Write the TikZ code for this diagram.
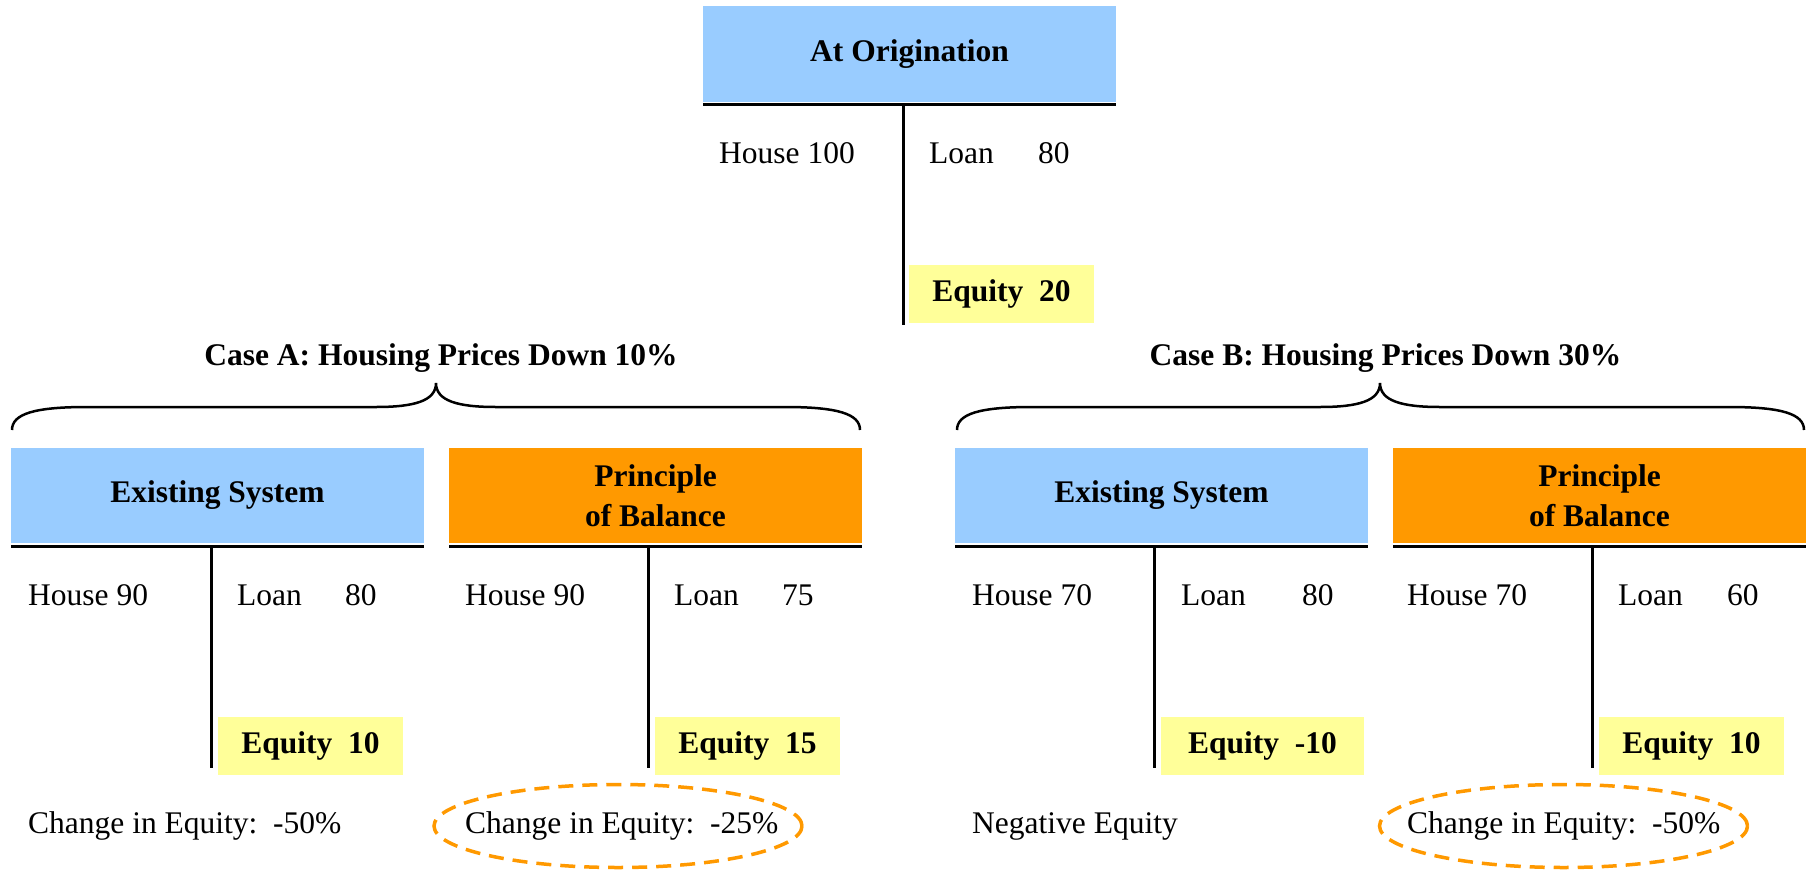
\documentclass[tikz,border=0pt]{standalone}
\usepackage{fontspec}
\setmainfont{Liberation Serif}
\usetikzlibrary{shapes.geometric}
\definecolor{hblue}{HTML}{99CCFF}
\definecolor{horange}{HTML}{FF9900}
\definecolor{hyellow}{HTML}{FFFF99}
\newcommand\mybrace[3]{%
  \draw[bracestyle] (#1,430) .. controls (#1,414) and (#1+22,407) .. (#1+75,407)
    -- (#2-60,407) .. controls (#2-22,407) and (#2,401) .. (#2,383)
    .. controls (#2,401) and (#2+22,407) .. (#2+60,407)
    -- (#3-75,407) .. controls (#3-22,407) and (#3,414) .. (#3,430);}
\begin{document}
\begin{tikzpicture}[x=1pt,y=-1pt,
  font=\fontsize{31.5}{40}\selectfont,
  hdr/.style={rectangle, inner sep=0pt, minimum width=413pt, minimum height=95pt,
    align=center, font=\fontsize{31.5}{40}\selectfont\bfseries},
  hdrblue/.style={hdr, fill=hblue},
  hdrorange/.style={hdr, fill=horange},
  eqbox/.style={rectangle, fill=hyellow, inner sep=0pt, minimum width=185pt,
    minimum height=58pt, font=\fontsize{31.5}{40}\selectfont\bfseries},
  txt/.style={anchor=base west, inner sep=0pt},
  ttl/.style={anchor=base, inner sep=0pt, font=\fontsize{31.5}{40}\selectfont\bfseries},
  tline/.style={line width=3pt},
  bracestyle/.style={line width=2.5pt},
  ellip/.style={ellipse, draw=horange, line width=3.5pt, dash pattern=on 15pt off 9pt,
    minimum width=368pt, minimum height=83pt, inner sep=0pt}]
\useasboundingbox (0,0) rectangle (1810,870);

% ---------- top: At Origination ----------
\node[hdrblue, minimum height=96pt] (top) at (909.5,54) {At Origination};
\coordinate (topL) at (703,104.5);
\coordinate (topR) at (1116,104.5);
\draw[tline] (topL) -- (topR);
\coordinate (topVa) at (903,104);
\coordinate (topVb) at (903,325);
\draw[tline] (topVa) -- (topVb);
\node[txt] (topHouse) at (719,163) {House 100};
\node[txt] (topLoan) at (929,163) {Loan};
\node[txt] (topLoanV) at (1038,163) {80};
\node[eqbox] (topEq) at (1001.5,294) {Equity\ \ 20};

% ---------- titles and braces ----------
\node[ttl] (ttlA) at (441,365) {Case A: Housing Prices Down 10\%};
\node[ttl] (ttlB) at (1385.5,365) {Case B: Housing Prices Down 30\%};
\mybrace{12}{436}{860}
\mybrace{957}{1380}{1804}

% ---------- Case A, Existing System ----------
\node[hdrblue] (a1) at (217.5,495.5) {Existing System};
\coordinate (a1L) at (11,546);
\coordinate (a1R) at (424,546);
\draw[tline] (a1L) -- (a1R);
\coordinate (a1Va) at (211,546);
\coordinate (a1Vb) at (211,768);
\draw[tline] (a1Va) -- (a1Vb);
\node[txt] (a1House) at (28,605) {House 90};
\node[txt] (a1Loan) at (237,605) {Loan};
\node[txt] (a1LoanV) at (345,605) {80};
\node[eqbox] (a1Eq) at (310.5,746) {Equity\ \ 10};
\node[txt] (a1Chg) at (28,833) {Change in Equity:\ \ -50\%};

% ---------- Case A, Principle of Balance ----------
\node[hdrorange] (a2) at (655.5,495.5) {Principle\\of Balance};
\coordinate (a2L) at (449,546);
\coordinate (a2R) at (862,546);
\draw[tline] (a2L) -- (a2R);
\coordinate (a2Va) at (648,546);
\coordinate (a2Vb) at (648,768);
\draw[tline] (a2Va) -- (a2Vb);
\node[txt] (a2House) at (465,605) {House 90};
\node[txt] (a2Loan) at (674,605) {Loan};
\node[txt] (a2LoanV) at (782,605) {75};
\node[eqbox] (a2Eq) at (747.5,746) {Equity\ \ 15};
\node[ellip] (a2Ell) at (618,826) {};
\node[txt] (a2Chg) at (465,833) {Change in Equity:\ \ -25\%};

% ---------- Case B, Existing System ----------
\node[hdrblue] (b1) at (1161.5,495.5) {Existing System};
\coordinate (b1L) at (955,546);
\coordinate (b1R) at (1368,546);
\draw[tline] (b1L) -- (b1R);
\coordinate (b1Va) at (1154,546);
\coordinate (b1Vb) at (1154,768);
\draw[tline] (b1Va) -- (b1Vb);
\node[txt] (b1House) at (972,605) {House 70};
\node[txt] (b1Loan) at (1181,605) {Loan};
\node[txt] (b1LoanV) at (1302,605) {80};
\node[eqbox, minimum width=203pt] (b1Eq) at (1262.5,746) {Equity\ \ -10};
\node[txt] (b1Neg) at (972,833) {Negative Equity};

% ---------- Case B, Principle of Balance ----------
\node[hdrorange] (b2) at (1599.5,495.5) {Principle\\of Balance};
\coordinate (b2L) at (1393,546);
\coordinate (b2R) at (1806,546);
\draw[tline] (b2L) -- (b2R);
\coordinate (b2Va) at (1592,546);
\coordinate (b2Vb) at (1592,768);
\draw[tline] (b2Va) -- (b2Vb);
\node[txt] (b2House) at (1407,605) {House 70};
\node[txt] (b2Loan) at (1618,605) {Loan};
\node[txt] (b2LoanV) at (1727,605) {60};
\node[eqbox] (b2Eq) at (1691.5,746) {Equity\ \ 10};
\node[ellip] (b2Ell) at (1563.5,826) {};
\node[txt] (b2Chg) at (1407,833) {Change in Equity:\ \ -50\%};
\end{tikzpicture}
\end{document}
